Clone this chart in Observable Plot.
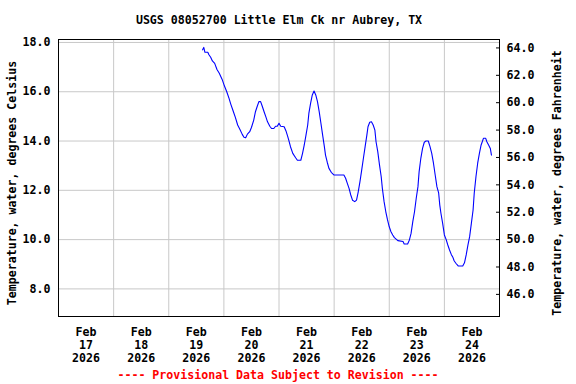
<!DOCTYPE html>
<html><head><meta charset="utf-8">
<script src="https://cdn.jsdelivr.net/npm/d3@7"></script>
<script src="https://cdn.jsdelivr.net/npm/@observablehq/plot@0.6"></script>
<style>body{margin:0;background:#fff}</style>
</head><body><div id="chart"></div>
<script>
const title = "USGS 08052700 Little Elm Ck nr Aubrey, TX";
const leftLabel = "Temperature, water, degrees Celsius";
const rightLabel = "Temperature, water, degrees Fahrenheit";
const caption = "---- Provisional Data Subject to Revision ----";
const dayLabels = [17, 18, 19, 20, 21, 22, 23, 24];
const celsiusTicks = [8, 10, 12, 14, 16, 18];
const fahrenheitTicks = [46, 48, 50, 52, 54, 56, 58, 60, 62, 64];

const times = [
"2026-02-19T14:45","2026-02-19T15:15","2026-02-19T15:45","2026-02-19T17:00","2026-02-19T17:30","2026-02-19T18:15",
"2026-02-19T19:00","2026-02-19T20:00","2026-02-19T21:00","2026-02-19T22:00","2026-02-19T23:15","2026-02-20T00:15",
"2026-02-20T01:15","2026-02-20T02:15","2026-02-20T03:00","2026-02-20T04:00","2026-02-20T05:00","2026-02-20T06:00",
"2026-02-20T07:00","2026-02-20T08:00","2026-02-20T08:45","2026-02-20T09:30","2026-02-20T10:15","2026-02-20T11:15",
"2026-02-20T12:00","2026-02-20T13:00","2026-02-20T13:45","2026-02-20T14:30","2026-02-20T15:15","2026-02-20T16:00",
"2026-02-20T16:45","2026-02-20T17:30","2026-02-20T18:15","2026-02-20T19:00","2026-02-20T20:00","2026-02-20T20:45",
"2026-02-20T21:45","2026-02-20T22:30","2026-02-20T23:15","2026-02-21T00:00","2026-02-21T00:45","2026-02-21T02:15",
"2026-02-21T03:00","2026-02-21T03:45","2026-02-21T04:15","2026-02-21T05:00","2026-02-21T06:00","2026-02-21T07:15",
"2026-02-21T08:00","2026-02-21T09:30","2026-02-21T10:15","2026-02-21T11:00","2026-02-21T11:45","2026-02-21T12:30",
"2026-02-21T13:00","2026-02-21T13:45","2026-02-21T14:30","2026-02-21T15:15","2026-02-21T16:00","2026-02-21T16:45",
"2026-02-21T17:30","2026-02-21T18:15","2026-02-21T19:00","2026-02-21T19:45","2026-02-21T20:15","2026-02-21T21:00",
"2026-02-21T21:45","2026-02-21T22:45","2026-02-22T00:00","2026-02-22T04:15","2026-02-22T05:00","2026-02-22T05:45",
"2026-02-22T06:30","2026-02-22T07:15","2026-02-22T08:00","2026-02-22T09:00","2026-02-22T09:45","2026-02-22T10:30",
"2026-02-22T11:15","2026-02-22T12:00","2026-02-22T12:45","2026-02-22T13:30","2026-02-22T14:15","2026-02-22T14:45",
"2026-02-22T15:30","2026-02-22T16:15","2026-02-22T17:00","2026-02-22T17:45","2026-02-22T18:15","2026-02-22T19:00",
"2026-02-22T19:45","2026-02-22T20:30","2026-02-22T21:00","2026-02-22T21:45","2026-02-22T22:30","2026-02-22T23:15",
"2026-02-23T00:00","2026-02-23T00:45","2026-02-23T01:30","2026-02-23T02:15","2026-02-23T03:45","2026-02-23T06:00",
"2026-02-23T06:30","2026-02-23T08:00","2026-02-23T08:45","2026-02-23T09:30","2026-02-23T10:15","2026-02-23T11:00",
"2026-02-23T11:45","2026-02-23T12:30","2026-02-23T13:00","2026-02-23T13:45","2026-02-23T14:30","2026-02-23T15:15",
"2026-02-23T16:00","2026-02-23T17:00","2026-02-23T17:45","2026-02-23T18:30","2026-02-23T19:15","2026-02-23T20:00",
"2026-02-23T20:45","2026-02-23T21:30","2026-02-23T22:00","2026-02-23T22:30","2026-02-23T23:15","2026-02-24T00:00",
"2026-02-24T00:45","2026-02-24T01:30","2026-02-24T02:15","2026-02-24T03:00","2026-02-24T03:45","2026-02-24T04:15",
"2026-02-24T05:00","2026-02-24T06:00","2026-02-24T08:00","2026-02-24T08:45","2026-02-24T09:30","2026-02-24T10:15",
"2026-02-24T11:00","2026-02-24T11:45","2026-02-24T12:30","2026-02-24T13:00","2026-02-24T13:45","2026-02-24T14:30",
"2026-02-24T15:15","2026-02-24T16:00","2026-02-24T16:30","2026-02-24T17:00","2026-02-24T18:00","2026-02-24T18:30",
"2026-02-24T19:15","2026-02-24T20:00","2026-02-24T20:30"
];
const tempsC = [
17.7,17.8,17.6,17.6,17.5,17.4,
17.25,17.15,16.9,16.75,16.5,16.23,
16.0,15.73,15.5,15.23,14.96,14.65,
14.47,14.27,14.15,14.13,14.28,14.38,
14.55,14.85,15.19,15.4,15.6,15.6,
15.4,15.19,14.99,14.78,14.6,14.51,
14.51,14.6,14.6,14.72,14.6,14.58,
14.42,14.2,14.04,13.77,13.5,13.32,
13.22,13.22,13.5,13.84,14.24,14.65,
15.12,15.53,15.87,16.03,15.87,15.6,
15.19,14.72,14.24,13.77,13.43,13.14,
12.89,12.73,12.62,12.62,12.49,12.28,
12.08,11.81,11.6,11.54,11.6,11.94,
12.35,12.82,13.3,13.77,14.24,14.58,
14.76,14.78,14.65,14.44,13.97,13.57,
13.03,12.55,12.08,11.54,11.13,10.8,
10.52,10.32,10.19,10.08,9.96,9.92,
9.82,9.82,9.98,10.25,10.73,11.13,
11.68,12.15,12.75,13.3,13.7,13.95,
14.0,14.0,13.77,13.5,13.1,12.62,
12.15,11.9,11.4,11.07,10.66,10.19,
10.01,9.78,9.58,9.4,9.27,9.14,
9.04,8.93,8.93,9.06,9.38,9.78,
10.12,10.66,11.2,11.88,12.55,13.1,
13.5,13.84,13.97,14.11,14.11,13.97,
13.84,13.7,13.43
];

const data = times.map((t, i) => ({date: new Date(t + ":00Z"), temp: tempsC[i]}));
const dayTicks = dayLabels.map(d => new Date(Date.UTC(2026, 1, d, 12)));
const dayLines = dayLabels.slice(1).map(d => new Date(Date.UTC(2026, 1, d)));
const f2c = f => (f - 32) / 1.8;
const gridColor = "#c8c8c8";

const chart = Plot.plot({
  width: 576, height: 384,
  marginLeft: 58, marginRight: 77, marginTop: 39, marginBottom: 68,
  style: {fontFamily: "DejaVu Sans Mono", fontSize: "11.6px", fontWeight: "bold", background: "#fff", color: "#000"},
  x: {type: "utc", domain: [new Date(Date.UTC(2026, 1, 17)), new Date(Date.UTC(2026, 1, 25))]},
  y: {domain: [6.88, 18.12]},
  marks: [
    Plot.gridX(dayLines, {stroke: gridColor, strokeOpacity: 1}),
    Plot.gridY(celsiusTicks, {stroke: gridColor, strokeOpacity: 1}),
    Plot.line(data, {x: "date", y: "temp", stroke: "#0000ff", strokeWidth: 1.1}),
    Plot.frame({stroke: "#000"}),
    Plot.axisY(celsiusTicks, {anchor: "left", tickSize: 0, tickPadding: 8, tickFormat: d => d.toFixed(1), label: null}),
    Plot.axisY(fahrenheitTicks.map(f2c), {anchor: "right", tickSize: 0, tickPadding: 7, tickFormat: c => (c * 1.8 + 32).toFixed(1), label: null}),
    Plot.axisY(fahrenheitTicks.map(f2c), {anchor: "right", tickSize: 4, dx: -4, tickFormat: () => "", label: null}),
    Plot.axisX(dayTicks, {tickSize: 0, tickPadding: 10, lineHeight: 1.13, tickFormat: d => `Feb\n${d.getUTCDate()}\n2026`, label: null}),
    Plot.text([title], {text: d => d, frameAnchor: "top", dy: -19, lineAnchor: "middle", textAnchor: "middle"}),
    Plot.text([leftLabel], {text: d => d, frameAnchor: "left", rotate: -90, dx: -46, dy: 5, lineAnchor: "middle", textAnchor: "middle"}),
    Plot.text([rightLabel], {text: d => d, frameAnchor: "right", rotate: -90, dx: 58, dy: 5, lineAnchor: "middle", textAnchor: "middle"}),
    Plot.text([caption], {text: d => d, frameAnchor: "bottom", dy: 59, dx: -1, lineAnchor: "middle", textAnchor: "middle", fill: "#ff0000"})
  ]
});
document.getElementById("chart").appendChild(chart);
</script>
</body></html>
